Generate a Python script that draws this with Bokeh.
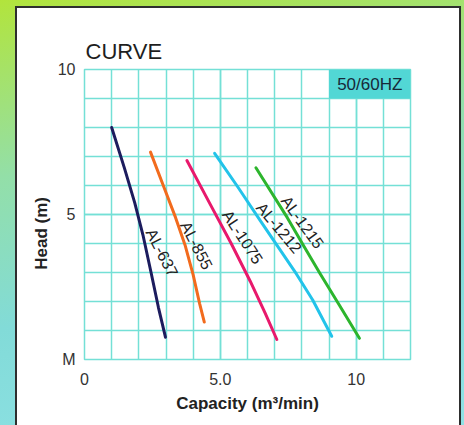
from bokeh.plotting import figure
from bokeh.models import FixedTicker, Range1d
from bokeh.core.properties import value
from bokeh.embed import file_html
from bokeh.resources import INLINE

# ---- data ----
series_names = ["AL-637", "AL-855", "AL-1075", "AL-1212", "AL-1215"]
series_colors = ["#1c1c5e", "#f26b1d", "#e8196c", "#22c3ea", "#2db52d"]

al637_x = [1.0, 1.47, 1.85, 2.15, 2.45, 2.72, 2.98]
al637_y = [8.0, 6.6, 5.4, 4.3, 3.0, 1.8, 0.77]
al855_x = [2.43, 2.9, 3.35, 3.71, 4.0, 4.24, 4.41]
al855_y = [7.15, 6.0, 4.9, 3.92, 2.92, 1.92, 1.29]
al1075_x = [3.77, 4.6, 5.4, 6.1, 6.65, 7.08]
al1075_y = [6.86, 5.4, 4.0, 2.7, 1.6, 0.69]
al1212_x = [4.79, 5.65, 6.47, 7.15, 7.8, 8.4, 9.1]
al1212_y = [7.11, 5.94, 4.79, 3.85, 2.95, 2.05, 0.8]
al1215_x = [6.31, 7.46, 8.06, 8.68, 9.35, 10.12]
al1215_y = [6.61, 4.9, 3.93, 2.95, 1.92, 0.73]

series_x = [al637_x, al855_x, al1075_x, al1212_x, al1215_x]
series_y = [al637_y, al855_y, al1075_y, al1212_y, al1215_y]

# curve label anchors (data coords) and rotation (deg)
label_x = [2.85, 4.12, 5.82, 7.16, 8.02]
label_y = [3.68, 3.93, 4.22, 4.54, 4.73]
label_angle = [-63, -63, -57, -50, -54]

x_ticks = [0, 5, 10]
x_tick_labels = ["0", "5.0", "10"]
y_ticks = [0, 5, 10]
y_tick_labels = ["M", "5", "10"]
x_minor = list(range(0, 13))
y_minor = list(range(0, 11))

title_text = "CURVE"
freq_text = "50/60HZ"
freq_box = (9, 12, 9, 10)  # left, right, bottom, top
x_label = "Capacity (m\u00b3/min)"
y_label = "Head (m)"

FONT = "Liberation Sans"
GRID = "#74e0d6"

p = figure(width=464, height=425, output_backend="svg", toolbar_location=None,
           x_range=Range1d(0, 12), y_range=Range1d(0, 10),
           min_border_left=84, min_border_right=54, min_border_top=69, min_border_bottom=66)
p.border_fill_alpha = 0
p.background_fill_color = "white"
p.styles = {"background": (
    "linear-gradient(#ffffff,#ffffff) 17px 8px / 442px 430px no-repeat, "
    "linear-gradient(#2e2e2e,#2e2e2e) 15px 6px / 446px 440px no-repeat, "
    "linear-gradient(170deg, #b2e43c 0%, #93dfa8 35%, #82dbd8 65%, #8fe2e6 100%)")}
p.outline_line_color = GRID
p.outline_line_width = 1.5

p.title.text = title_text
p.title.align = "left"
p.title.offset = 1
p.title.standoff = 11
p.title.text_font = FONT
p.title.text_font_style = "normal"
p.title.text_font_size = "22px"
p.title.text_color = "#1e1e1e"

for ax, ticks, labels in ((p.xaxis[0], x_ticks, x_tick_labels), (p.yaxis[0], y_ticks, y_tick_labels)):
    ax.axis_line_color = None
    ax.major_tick_line_color = None
    ax.minor_tick_line_color = None
    ax.major_label_text_font = FONT
    ax.major_label_text_font_size = "16px"
    ax.major_label_text_color = "#333333"
    ax.major_label_overrides = {t: l for t, l in zip(ticks, labels)}
    ax.axis_label_text_font = FONT
    ax.axis_label_text_font_style = "bold"
    ax.axis_label_text_font_size = "17px"
    ax.axis_label_text_color = "#222222"

p.xaxis.ticker = FixedTicker(ticks=x_ticks, minor_ticks=x_minor)
p.yaxis.ticker = FixedTicker(ticks=y_ticks, minor_ticks=y_minor)
p.xaxis.major_label_standoff = 7
p.yaxis.major_label_standoff = 3
p.xaxis.axis_label = x_label
p.xaxis.axis_label_standoff = 6
p.yaxis.axis_label = y_label + "\u00a0" * 8
p.yaxis.axis_label_standoff = 4

for g in (p.xgrid[0], p.ygrid[0]):
    g.grid_line_color = GRID
    g.grid_line_width = 1.5
    g.minor_grid_line_color = GRID
    g.minor_grid_line_width = 1.5

# frequency box
p.quad(left=[freq_box[0]], right=[freq_box[1]], bottom=[freq_box[2]], top=[freq_box[3]],
       fill_color="#52d7d5", line_color=None)
p.text(x=[(freq_box[0] + freq_box[1]) / 2], y=[(freq_box[2] + freq_box[3]) / 2], text=[freq_text],
       text_font=value(FONT), text_font_size="17px", text_color="#17293a",
       text_align="center", text_baseline="middle")

for xs, ys, c in zip(series_x, series_y, series_colors):
    p.line(xs, ys, line_color=c, line_width=3, line_cap="round", line_join="round")

p.text(x=label_x, y=label_y, text=series_names, angle=label_angle, angle_units="deg",
       text_font=value(FONT), text_font_size="16px", text_color="#222222",
       text_align="center", text_baseline="middle")

open("out.html", "w").write(file_html(p, INLINE))
